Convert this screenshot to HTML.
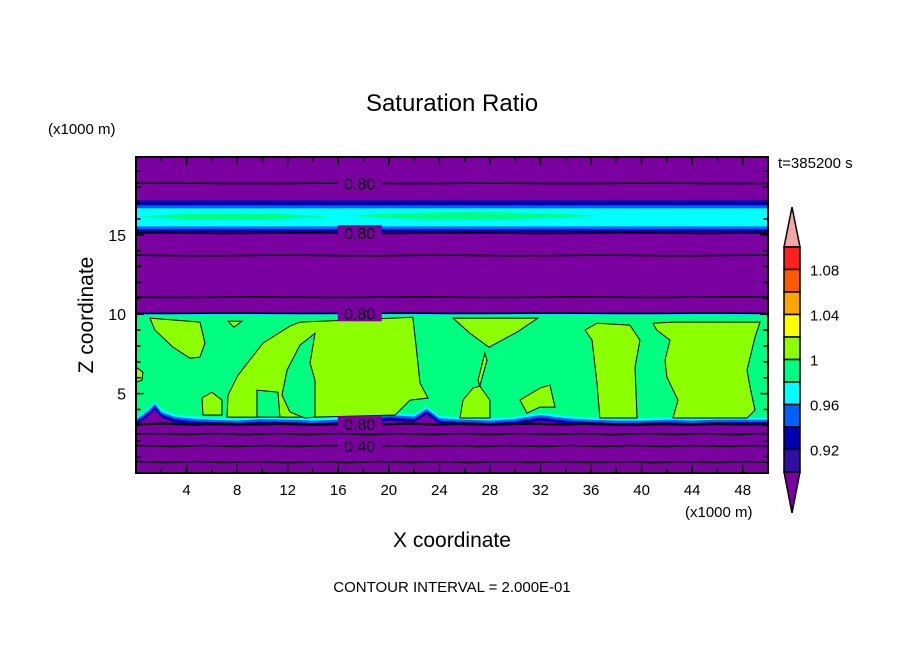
<!DOCTYPE html>
<html><head><meta charset="utf-8"><style>
body{margin:0;background:#fff;}
svg text{font-family:"Liberation Sans",sans-serif;fill:#000;}
</style></head><body>
<svg id="c" width="904" height="654" viewBox="0 0 904 654">
<rect width="904" height="654" fill="#fff"/>
<text x="452" y="111" font-size="24" text-anchor="middle">Saturation Ratio</text>
<text x="48" y="134" font-size="15">(x1000 m)</text>
<text x="778" y="168" font-size="15">t=385200 s</text>
<text x="685" y="517" font-size="15">(x1000 m)</text>
<text x="452" y="547" font-size="21" text-anchor="middle">X coordinate</text>
<text x="93" y="315" font-size="21" text-anchor="middle" transform="rotate(-90 93 315)">Z coordinate</text>
<text x="452" y="592" font-size="15" text-anchor="middle">CONTOUR INTERVAL = 2.000E-01</text>
<clipPath id="pc"><rect x="136" y="157" width="632" height="316"/></clipPath>
<g id="plot" clip-path="url(#pc)"></g>
<g id="axes"></g>
<g id="cbar"></g>
</svg>
<script>
const xDomain=[0,50], zDomain=[0,19.9];
const xTicks=[4,8,12,16,20,24,28,32,36,40,44,48];
const zTicks=[5,10,15];
const cbLevels=["1.08","1.04","1","0.96","0.92"];
const cbColors=["#ff2020","#ff5a00","#ffa500","#ffff00","#8cff00","#00ff80","#00ffff","#0060ff","#0000b0","#3010a0"];
const upperBands=[[15.16,17.17,"#0000b0"],[15.35,16.86,"#0060ff"],[15.53,16.67,"#00ffff"]];
const lenses=[[0.3,15.3,16.15,0.3],[16.9,36.7,16.2,0.33]];
const layerTop=9.95;
const bottomX=[0,1,1.5,2,3,4,6,8,10,12,14,16,18,20,22,23,24,26,28,30,32,34,36,38,40,42,44,46,48,50];
const bottomZ=[3.5,4.1,4.5,4.0,3.7,3.6,3.5,3.45,3.55,3.5,3.45,3.5,3.6,3.8,3.7,4.2,3.6,3.5,3.45,3.55,3.8,3.6,3.5,3.45,3.45,3.5,3.45,3.5,3.5,3.5];
const limeBlobs=[
[[1.1,9.75],[5.06,9.5],[5.46,8.18],[5.06,7.3],[4.27,7.23],[2.93,7.92],[1.5,9.0]],
[[7.28,9.56],[8.39,9.56],[7.75,9.18]],
[[7.2,3.52],[7.28,4.9],[8.07,6.16],[10.05,8.18],[12.18,9.25],[12.97,9.5],[21.9,9.81],[22.15,8.05],[22.47,5.66],[23.1,4.72],[21.68,4.59],[20.5,3.65],[14.16,3.52]],
[[5.22,4.72],[6.0,5.09],[6.8,4.59],[6.8,3.65],[5.3,3.65]],
[[0,6.67],[0.55,6.35],[0.47,5.85],[0,5.72]],
[[25.08,9.75],[31.8,9.75],[30.14,8.87],[27.93,7.92],[26.42,8.8]],
[[27.6,7.55],[27.77,7.1],[27.2,5.47],[27.06,5.85]],
[[25.63,3.46],[25.87,4.59],[26.66,5.35],[27.2,5.47],[28.0,4.59],[28.0,3.46]],
[[36.08,8.36],[35.52,9.0],[36.47,9.43],[39.08,9.31],[39.87,8.36],[39.48,6.67],[39.64,3.46],[36.7,3.46],[36.47,5.66]],
[[40.9,9.43],[42.48,9.5],[49.37,9.5],[48.97,8.55],[48.34,6.48],[48.58,5.41],[48.97,3.96],[48.34,3.46],[42.48,3.46],[42.88,4.59],[42.0,6.04],[41.85,7.1],[42.25,8.36],[41.2,9.0]],
[[30.38,4.59],[31.96,5.35],[32.75,5.53],[33.15,4.15],[31.96,4.15],[30.93,3.77]]
];
const greenHoles=[
[[14.16,8.8],[12.97,8.05],[11.95,6.48],[11.55,4.9],[12.18,3.84],[13.37,3.46],[14.16,3.52],[14.16,5.85],[13.77,6.92]],
[[9.57,5.22],[11.23,5.09],[11.39,3.52],[9.57,3.52]]
];
const contourZ=[18.24,15.1,13.7,11.07,10.06,3.08,2.45,1.7,0.69];
const contourLabels=[[18.24,"0.80"],[15.1,"0.80"],[10.06,"0.80"],[3.08,"0.80"],[1.7,"0.40"]];
const labelX=17.7;

const L=136,R=768,T=157,B=473;
const sx=v=>L+(v-xDomain[0])/(xDomain[1]-xDomain[0])*(R-L);
const sz=v=>B-(v-zDomain[0])/(zDomain[1]-zDomain[0])*(B-T);
const NS="http://www.w3.org/2000/svg";
function mk(tag,attrs,parent){const e=document.createElementNS(NS,tag);for(const k in attrs)e.setAttribute(k,attrs[k]);parent.appendChild(e);return e;}
const plot=document.getElementById('plot'),axes=document.getElementById('axes'),cb=document.getElementById('cbar');
let e=mk('rect',{x:L,y:T,width:R-L,height:B-T,fill:"#7a00a0"},plot);


upperBands.forEach(b=>{const el=mk('rect',{x:L,y:sz(b[1]),width:R-L,height:sz(b[0])-sz(b[1]),fill:b[2]},plot);

});
lenses.forEach(l=>{const x0=sx(l[0]),x1=sx(l[1]),xm=x0+(x1-x0)*0.45,yt=sz(l[2]+l[3]),yb=sz(l[2]-l[3]),yc=sz(l[2]);
const el=mk('path',{d:`M${x0},${yc} Q${xm},${yt-2} ${x1},${yc} Q${xm},${yb+2} ${x0},${yc}Z`,fill:"#00ff80"},plot);

});
function raggedPath(off,top){let d=`M${sx(0)},${sz(top)} L${sx(50)},${sz(top)}`;for(let i=bottomX.length-1;i>=0;i--)d+=` L${sx(bottomX[i])},${sz(bottomZ[i]-off)}`;return d+'Z';}
[[0.5,"#0000b0"],[0.3,"#0060ff"],[0.15,"#00ffff"],[0,"#00ff80"]].forEach(([o,c])=>{const el=mk('path',{d:raggedPath(o,layerTop+o*0.3),fill:c},plot);

});
const poly=p=>p.map(q=>sx(q[0])+','+sz(q[1])).join(' ');
limeBlobs.forEach(p=>{const el=mk('polygon',{points:poly(p),fill:"#8cff00",stroke:"#000","stroke-width":1},plot);

});
greenHoles.forEach(p=>{const el=mk('polygon',{points:poly(p),fill:"#00ff80",stroke:"#000","stroke-width":1},plot);

});
contourZ.forEach((z,i)=>{let d='';for(let x=0;x<=50;x+=1){const w=(i>=5?0.03*Math.sin(x*1.3+i):0.015*Math.sin(x*0.5+i));d+=(x?' L':'M')+sx(x)+','+(sz(z+w));}
const el=mk('path',{d:d,fill:"none",stroke:"#000","stroke-width":(i===5?2.2:1.6)},plot);

});
contourLabels.forEach(([z,t])=>{const r=mk('rect',{x:sx(labelX)-22,y:sz(z)-8,width:44,height:16,fill:"#7a00a0"},plot);


const el=mk('text',{x:sx(labelX),y:sz(z)+6,"font-size":16,"text-anchor":"middle"},plot);el.textContent=t;

});
e=mk('rect',{x:L,y:T,width:R-L,height:B-T,fill:"none",stroke:"#000","stroke-width":2},axes);


for(let x=2;x<50;x+=2){const big=x%4===0;[[B,B-(big?8:5)],[T,T+(big?8:5)]].forEach(([a,b])=>{const el=mk('line',{x1:sx(x),x2:sx(x),y1:a,y2:b,stroke:"#000","stroke-width":1.5},axes);

});}
for(let z=1;z<20;z++){const big=z%5===0;[[L,L+(big?8:5)],[R,R-(big?8:5)]].forEach(([a,b])=>{const el=mk('line',{y1:sz(z),y2:sz(z),x1:a,x2:b,stroke:"#000","stroke-width":1.5},axes);

});}
xTicks.forEach(v=>{const el=mk('text',{x:sx(v),y:B+22,"font-size":15,"text-anchor":"middle"},axes);el.textContent=v;

});
zTicks.forEach(v=>{const el=mk('text',{x:L-10,y:sz(v)+6,"font-size":16,"text-anchor":"end"},axes);el.textContent=v;

});
const cx0=784,cx1=800,cy0=247,bh=22.5;
e=mk('polygon',{points:`${cx0},${cy0} ${(cx0+cx1)/2},207 ${cx1},${cy0}`,fill:"#f4a6a6",stroke:"#000","stroke-width":1.5},cb);


cbColors.forEach((c,i)=>{const el=mk('rect',{x:cx0,y:cy0+i*bh,width:cx1-cx0,height:bh,fill:c,stroke:"#000","stroke-width":1.5},cb);

});
const cyEnd=cy0+cbColors.length*bh;
e=mk('polygon',{points:`${cx0},${cyEnd} ${(cx0+cx1)/2},513 ${cx1},${cyEnd}`,fill:"#7a00a0",stroke:"#000","stroke-width":1.5},cb);


cbLevels.forEach((t,i)=>{const el=mk('text',{x:810,y:cy0+(2*i+1)*bh+6,"font-size":15},cb);el.textContent=t;

});
</script>
</body></html>
